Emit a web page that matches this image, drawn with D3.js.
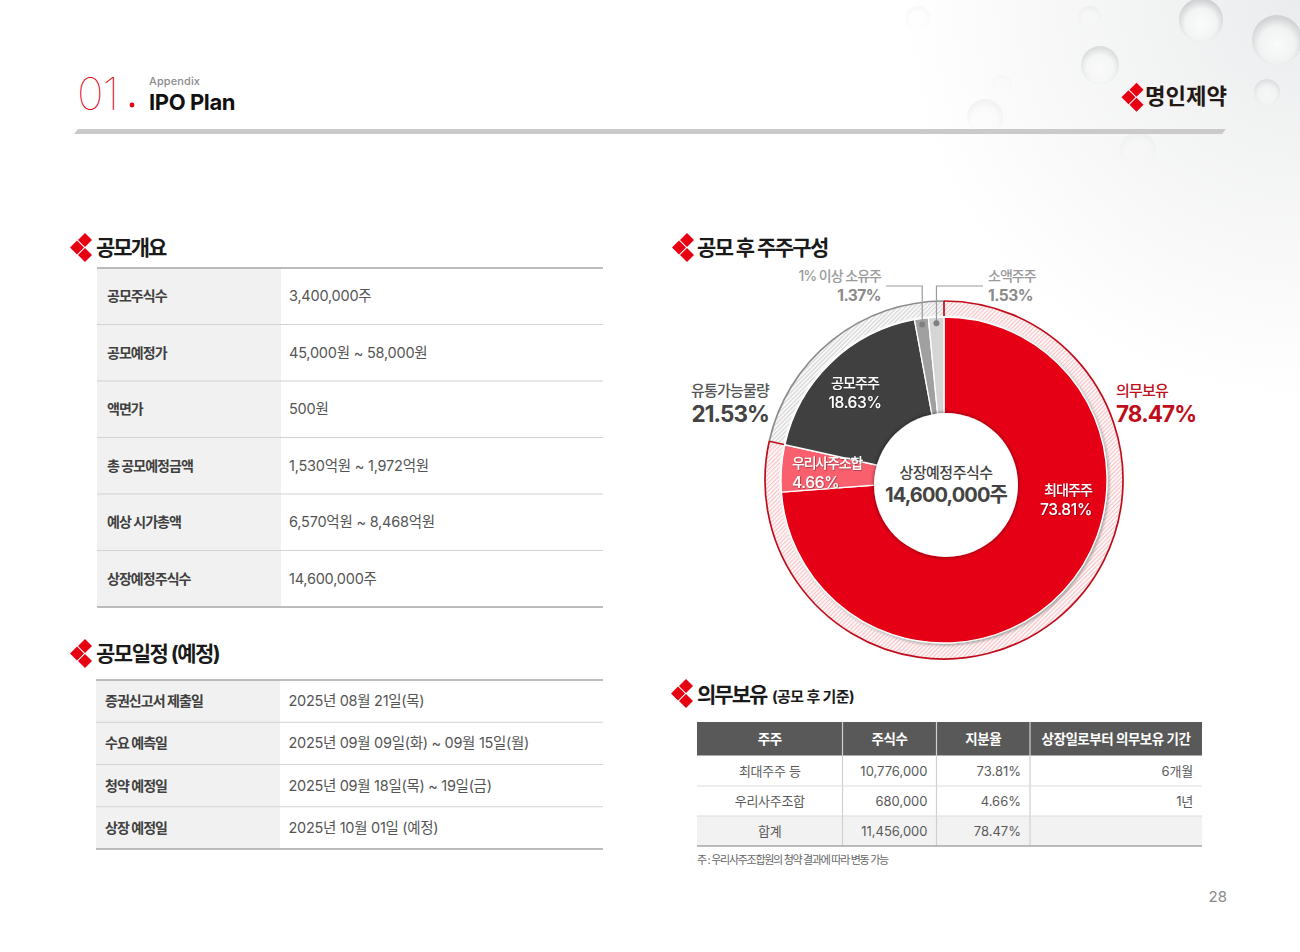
<!DOCTYPE html>
<html lang="ko">
<head>
<meta charset="utf-8">
<title>IPO Plan</title>
<script src="https://cdn.jsdelivr.net/npm/d3@7"></script>
<style>
  html, body { margin: 0; padding: 0; background: #fff; }
  svg { display: block; }
  text { font-family: "Inter", "Noto Sans CJK KR", sans-serif; }
</style>
</head>
<body>
<svg id="page" width="1300" height="952"></svg>
<script>
/// Chart data
var sliceNames = ["최대주주", "우리사주조합", "공모주주", "1% 이상 소유주", "소액주주"];
var sliceValues = [73.81, 4.66, 18.63, 1.37, 1.53];
var groupNames = ["의무보유", "유통가능물량"];
var groupValues = [78.47, 21.53];
var centerTitle = "상장예정주식수";
var centerValue = "14,600,000주";

/// Tables
var offerLabels = ["공모주식수", "공모예정가", "액면가", "총 공모예정금액", "예상 시가총액", "상장예정주식수"];
var offerValues = ["3,400,000주", "45,000원 ~ 58,000원", "500원", "1,530억원 ~ 1,972억원", "6,570억원 ~ 8,468억원", "14,600,000주"];
var dateLabels = ["증권신고서 제출일", "수요 예측일", "청약 예정일", "상장 예정일"];
var dateValues = ["2025년 08월 21일(목)", "2025년 09월 09일(화) ~ 09월 15일(월)", "2025년 09월 18일(목) ~ 19일(금)", "2025년 10월 01일 (예정)"];
var lockHeader = ["주주", "주식수", "지분율", "상장일로부터 의무보유 기간"];
var lockHolders = ["최대주주 등", "우리사주조합", "합계"];
var lockShares = ["10,776,000", "680,000", "11,456,000"];
var lockRatios = ["73.81%", "4.66%", "78.47%"];
var lockPeriods = ["6개월", "1년", ""];

var svg = d3.select("#page");
var defs = svg.append("defs");

/// Background: soft corner glow and faint molecules
var glow = defs.append("radialGradient").attr("id", "glow")
    .attr("gradientUnits", "userSpaceOnUse")
    .attr("cx", 1300).attr("cy", 0).attr("r", 400);
glow.append("stop").attr("offset", "0%").attr("stop-color", "#ebeced");
glow.append("stop").attr("offset", "100%").attr("stop-color", "#ffffff");

var ball = defs.append("radialGradient").attr("id", "ball").attr("cx", "50%").attr("cy", "60%").attr("r", "55%");
ball.append("stop").attr("offset", "0%").attr("stop-color", "#ffffff").attr("stop-opacity", 0.9);
ball.append("stop").attr("offset", "65%").attr("stop-color", "#f4f5f5").attr("stop-opacity", 0.7);
ball.append("stop").attr("offset", "100%").attr("stop-color", "#c4c7c8").attr("stop-opacity", 0.8);

svg.append("rect").attr("width", 1300).attr("height", 952).attr("fill", "#fff");
svg.append("rect").attr("x", 900).attr("width", 400).attr("height", 400).attr("fill", "url(#glow)");

var bubbles = [
    [1201, 20, 22, 0.9], [1277, 40, 25, 0.85], [1100, 65, 19, 0.65], [1267, 92, 13, 0.5],
    [985, 117, 18, 0.22], [918, 18, 12, 0.15], [1090, 17, 11, 0.2], [1002, 85, 10, 0.1], [1138, 150, 18, 0.15]
];
svg.append("g").selectAll("circle").data(bubbles).join("circle")
    .attr("cx", d => d[0]).attr("cy", d => d[1]).attr("r", d => d[2])
    .attr("fill", "url(#ball)").attr("opacity", d => d[3]);

/// Red three diamonds used by the logo and section titles
function diamonds(x, y) {
    var half = 7;
    var g = svg.append("g").attr("fill", "#e60012");
    [[0, 0], [8, -7.5], [8, 7.5]].forEach(function(o) {
        var cx = x + o[0], cy = y + o[1];
        g.append("path").attr("d", d3.line()([[cx, cy - half], [cx + half, cy], [cx, cy + half], [cx - half, cy]]) + "Z");
    });
}

function label(x, y, str, size, weight, color, anchor, spacing) {
    return svg.append("text")
        .attr("x", x).attr("y", y).text(str)
        .attr("font-size", size).attr("font-weight", weight)
        .attr("fill", color).attr("text-anchor", anchor || "start")
        .attr("letter-spacing", spacing === undefined ? -0.4 : spacing);
}

/// Page header
label(77, 110, "01", 45, 100, "#e60012", "start", -1);
svg.append("circle").attr("cx", 132).attr("cy", 105).attr("r", 2.4).attr("fill", "#e60012");
label(149, 85, "Appendix", 11, 500, "#8c8c8c", "start", 0.1);
label(149, 110, "IPO Plan", 22, 700, "#111", "start", -0.4);
svg.append("path").attr("fill", "#c9cac9")
    .attr("d", "M78,129 L1226,129 L1222,134 L74,134 Z");
diamonds(1128.5, 97.3);
label(1145, 104, "명인제약", 22, 700, "#231815", "start", 0)
    .attr("textLength", 82).attr("lengthAdjust", "spacingAndGlyphs");
label(1227, 902, "28", 15, 400, "#8a8a8a", "end", 0);

/// Section titles
diamonds(77, 247.5);
label(96, 255, "공모개요", 21, 700, "#1a1a1a", "start", -2);
diamonds(77, 653.5);
label(96, 661, "공모일정 (예정)", 21, 700, "#1a1a1a", "start", -1.5);
diamonds(679, 247.5);
label(697, 255, "공모 후 주주구성", 21, 700, "#1a1a1a", "start", -1.6);
diamonds(678, 693.5);
label(697, 702, "의무보유", 21, 700, "#1a1a1a", "start", -2);
label(772, 702, "(공모 후 기준)", 15, 700, "#1a1a1a", "start", -0.6);

/// Two column tables on the left
function infoTable(labels, values, x0, x1, x2, y0, y1, textX, valueX, valueSpacing) {
    var y = d3.scaleBand().domain(d3.range(labels.length)).range([y0, y1]);
    var g = svg.append("g");
    g.selectAll(".head").data(labels).join("rect")
        .attr("x", x0).attr("y", (d, i) => y(i)).attr("width", x1 - x0).attr("height", y.bandwidth())
        .attr("fill", "#f1f1f1");
    g.selectAll(".rule").data(labels).join("line")
        .attr("x1", x0).attr("x2", x2)
        .attr("y1", (d, i) => y(i) + y.bandwidth()).attr("y2", (d, i) => y(i) + y.bandwidth())
        .attr("stroke", (d, i) => i == labels.length - 1 ? "#a6a6a6" : "#d2d2d2")
        .attr("stroke-width", (d, i) => i == labels.length - 1 ? 1.6 : 1.2);
    g.append("line").attr("x1", x0).attr("x2", x2).attr("y1", y0).attr("y2", y0)
        .attr("stroke", "#a6a6a6").attr("stroke-width", 1.6);
    labels.forEach(function(d, i) {
        var mid = y(i) + y.bandwidth() / 2 + 5;
        label(textX, mid, d, 14, 700, "#404040", "start", -0.95);
        label(valueX, mid, values[i], 14.5, 400, "#555", "start", valueSpacing);
    });
}
infoTable(offerLabels, offerValues, 97, 281, 603, 268, 607, 107, 289, -0.22);
infoTable(dateLabels, dateValues, 96, 280, 603, 680, 849, 105, 288.5, -0.3);

/// Donut
var cx = 944, cy = 480;
var rOuter = 163, rRingIn = 165, rRingOut = 179;
var chart = svg.append("g").attr("transform", "translate(" + cx + "," + cy + ")");

function hatch(id, color) {
    var p = defs.append("pattern").attr("id", id).attr("width", 3).attr("height", 3)
        .attr("patternUnits", "userSpaceOnUse").attr("patternTransform", "rotate(-45)");
    p.append("rect").attr("width", 3).attr("height", 3).attr("fill", "#fff");
    p.append("rect").attr("width", 3).attr("height", 1.4).attr("fill", color);
}
hatch("hatchRed", "#f8c6c9");
hatch("hatchGray", "#d5d5d5");

var pie = d3.pie().sort(null).value(d => d);
var slices = pie(sliceValues);
var groups = pie(groupValues);
var sliceColor = d3.scaleOrdinal().domain(sliceNames)
    .range(["#e60012", "#fa5f6e", "#404040", "#a0a0a0", "#d5d5d5"]);
var arc = d3.arc().innerRadius(0).outerRadius(rOuter);
var ringArc = d3.arc().innerRadius(rRingIn).outerRadius(rRingOut - 0.6);

/// Outer ring, one band per group
chart.selectAll(".ring").data(groups).join("path")
    .attr("d", ringArc)
    .attr("fill", (d, i) => i == 0 ? "url(#hatchRed)" : "url(#hatchGray)");
chart.selectAll(".ringline").data(groups).join("path")
    .attr("fill", "none")
    .attr("stroke", (d, i) => i == 0 ? "#c00d1a" : "#8c8c8c")
    .attr("stroke-width", 1.7)
    .attr("d", d => d3.arc().innerRadius(rRingOut).outerRadius(rRingOut)(d));
/// Red ticks closing the hatched band at both ends of the first group
chart.selectAll(".ringtick").data([groups[0].startAngle, groups[0].endAngle]).join("line")
    .attr("x1", a => rRingIn * Math.sin(a) - 1 * Math.sin(a)).attr("y1", a => -(rRingIn - 1) * Math.cos(a))
    .attr("x2", a => rRingOut * Math.sin(a)).attr("y2", a => -rRingOut * Math.cos(a))
    .attr("stroke", "#c00d1a").attr("stroke-width", 1.7);

defs.append("filter").attr("id", "pieShadow").attr("x", "-10%").attr("y", "-10%").attr("width", "120%").attr("height", "120%")
    .append("feDropShadow").attr("dx", 1.2).attr("dy", 1.2).attr("stdDeviation", 1.6)
    .attr("flood-color", "#000").attr("flood-opacity", 0.45);
defs.append("filter").attr("id", "holeShadow").attr("x", "-20%").attr("y", "-20%").attr("width", "140%").attr("height", "140%")
    .append("feDropShadow").attr("dx", 0).attr("dy", 0).attr("stdDeviation", 2.2)
    .attr("flood-color", "#000").attr("flood-opacity", 0.55);
defs.append("filter").attr("id", "textShadow").attr("x", "-20%").attr("y", "-40%").attr("width", "140%").attr("height", "180%")
    .append("feDropShadow").attr("dx", 0.6).attr("dy", 0.6).attr("stdDeviation", 0.7)
    .attr("flood-color", "#000").attr("flood-opacity", 0.55);

chart.append("g").attr("filter", "url(#pieShadow)")
    .selectAll("path").data(slices).join("path")
    .attr("d", arc)
    .attr("fill", (d, i) => sliceColor(sliceNames[i]))
    .attr("stroke", "#fff").attr("stroke-width", 1.3);

/// The hole sits a little off the pie centre in the source
chart.append("circle").attr("cx", 2).attr("cy", 5).attr("r", 72)
    .attr("fill", "#fff").attr("filter", "url(#holeShadow)");

/// Leader lines for the two small slices
var leadY = 286 - cy;
var dotArc = d3.arc().innerRadius(157).outerRadius(157);
[3, 4].forEach(function(i) {
    var c = dotArc.centroid(slices[i]);
    var endX = (i == 3 ? 886 : 983) - cx;
    chart.append("path").attr("fill", "none").attr("stroke", "#9a9a9a").attr("stroke-width", 1.2)
        .attr("d", d3.line()([[endX, leadY], [c[0], leadY], [c[0], c[1]]]));
    chart.append("circle").attr("cx", c[0]).attr("cy", c[1]).attr("r", 3).attr("fill", "#7f7f7f");
});

/// Chart labels
var fmt = d => d.toFixed(2) + "%";
function sliceLabel(i, x, y, anchor, spacing) {
    label(x, y, sliceNames[i], 14, 500, "#fff", anchor, spacing).attr("filter", "url(#textShadow)");
    label(x, y + 20, fmt(sliceValues[i]), 15.5, 500, "#fff", anchor, -0.3).attr("filter", "url(#textShadow)");
}
sliceLabel(0, 1092, 495, "end", -0.9);
sliceLabel(1, 792, 468, "start", -1.2);
sliceLabel(2, 855, 388, "middle", -0.9);

label(881, 281, sliceNames[3], 14, 500, "#9a9a9a", "end", -1);
label(881, 301, fmt(sliceValues[3]), 15.5, 700, "#8a8a8a", "end", -0.5);
label(988, 281, sliceNames[4], 14, 500, "#9a9a9a", "start", -1);
label(988, 301, fmt(sliceValues[4]), 15.5, 700, "#8a8a8a", "start", -0.5);

label(1116, 396, groupNames[0], 15, 500, "#c00d1a", "start", -0.8);
label(1116, 422, fmt(groupValues[0]), 22.5, 700, "#c00d1a", "start", -0.9);
label(769, 396, groupNames[1], 15, 500, "#555", "end", -0.8);
label(769, 422, fmt(groupValues[1]), 22.5, 700, "#444", "end", -0.9);

label(946, 478, centerTitle, 15, 500, "#444", "middle", -0.5);
label(946, 502, centerValue, 20, 700, "#444", "middle", -0.9);

/// Lock-up table
var colEdges = [697, 842.5, 936.5, 1030, 1202];
var lockRows = d3.scaleBand().domain(d3.range(lockHolders.length)).range([756, 846]);
var lock = svg.append("g");
lock.append("rect").attr("x", colEdges[0]).attr("y", 722)
    .attr("width", colEdges[4] - colEdges[0]).attr("height", 33.5).attr("fill", "#595959");
lock.append("rect").attr("x", colEdges[0]).attr("y", lockRows(2))
    .attr("width", colEdges[4] - colEdges[0]).attr("height", lockRows.bandwidth()).attr("fill", "#f2f2f2");
lock.selectAll(".vline").data(colEdges.slice(1, 4)).join("line")
    .attr("x1", d => d).attr("x2", d => d).attr("y1", 722).attr("y2", 846)
    .attr("stroke", "#d0d0d0").attr("stroke-width", 1.2);
lock.selectAll(".hline").data(lockHolders).join("line")
    .attr("x1", colEdges[0]).attr("x2", colEdges[4])
    .attr("y1", (d, i) => lockRows(i) + lockRows.bandwidth()).attr("y2", (d, i) => lockRows(i) + lockRows.bandwidth())
    .attr("stroke", (d, i) => i == 2 ? "#a6a6a6" : "#dcdcdc").attr("stroke-width", (d, i) => i == 2 ? 1.5 : 1.2);

lockHeader.forEach(function(d, i) {
    label((colEdges[i] + colEdges[i + 1]) / 2, 744, d, 13.5, 600, "#fff", "middle", -0.5);
});
lockHolders.forEach(function(d, i) {
    var mid = lockRows(i) + lockRows.bandwidth() / 2 + 5;
    label((colEdges[0] + colEdges[1]) / 2, mid, d, 13, 400, "#5a5a5a", "middle", -0.3);
    label(colEdges[2] - 9, mid, lockShares[i], 13, 400, "#5a5a5a", "end", 0);
    label(colEdges[3] - 9, mid, lockRatios[i], 13, 400, "#5a5a5a", "end", 0);
    label(colEdges[4] - 9, mid, lockPeriods[i], 13, 400, "#5a5a5a", "end", -0.2);
});
label(697, 864, "주 : 우리사주조합원의 청약 결과에 따라 변동 가능", 11, 400, "#666", "start", -1.3);
</script>
</body>
</html>
